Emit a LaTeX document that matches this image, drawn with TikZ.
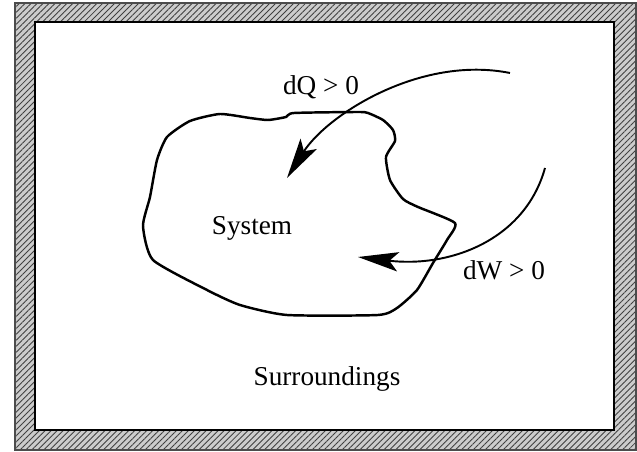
\documentclass[tikz,border=0pt]{standalone}
\usepackage{fontspec}
\setmainfont{Liberation Serif}
\usetikzlibrary{arrows.meta, patterns.meta, positioning}

\begin{document}
\begin{tikzpicture}[
        x=0.02cm, y=-0.02cm,
        wall/.style={draw=black!70, line width=0.6pt, preaction={fill=gray!40},
            pattern={Lines[angle=45, distance=2.4pt, line width=0.5pt]}, pattern color=black!75},
        room/.style={draw=black, line width=1.1pt, fill=white},
        boundary/.style={line width=1.4pt, line join=round},
        flow/.style={line width=1.1pt, -{Stealth[length=23pt, width=11pt, inset=5pt]}},
        txt/.style={font=\fontsize{15.5}{18}\selectfont, anchor=base, inner sep=0pt}
    ]

    % Page size of the reference
    \useasboundingbox (0,0) rectangle (637,452);

    % Insulating wall round the surroundings
    \path[wall] (15,3) rectangle (636,450);
    \path[room] (35,22) rectangle (614,430);

    % The system boundary
    \draw[boundary] plot[smooth cycle, tension=0.35] coordinates {
        (220,114) (250,118) (268,120) (286,117) (294,113) (358,112) (368,113)
        (383,120) (393,130) (395,141) (386,157) (390,180) (403,199) (418,207)
        (455,223) (447,240) (433,263) (417,290) (397,308) (378,315) (287,315)
        (240,305) (207,290) (153,260) (143,226) (150,197) (157,160) (167,137)
        (190,121)};

    % Labels
    \node[txt] (system) at (252,235) {System};
    \node[txt] (surr) at (327,386) {Surroundings};
    \node[txt] (heat) at (321,95) {dQ > 0};
    \node[txt] (work) at (504,280) {dW > 0};

    % Heat and work arrows
    \coordinate (q start) at (510,73);
    \coordinate (q end) at (287,178);
    \coordinate (w start) at (545,168);
    \coordinate (w end) at (358,257);

    \draw[flow] (q start) .. controls (420,55) and (327,115) .. (q end);
    \draw[flow] (w start) .. controls (525,240) and (450,268) .. (w end);

\end{tikzpicture}
\end{document}
